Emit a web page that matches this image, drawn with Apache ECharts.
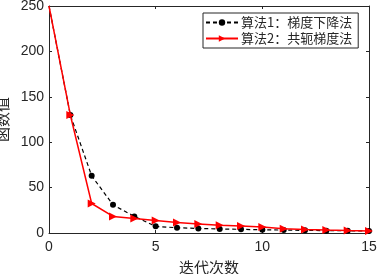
<!DOCTYPE html>
<html><head><meta charset="utf-8">
<script src="https://cdn.jsdelivr.net/npm/echarts@6/dist/echarts.min.js"></script>
<style>html,body{margin:0;padding:0;background:#fff}#c{width:377px;height:274px}</style>
</head><body><div id="c"></div>
<script>
var iterations = [0,1,2,3,4,5,6,7,8,9,10,11,12,13,14,15];
var gdValues = [250,130,63,31,18.3,7.3,5.8,5.0,4.5,4.0,3.6,3.2,2.9,2.6,2.4,2.2];
var cgValues = [250,130,32.5,18.3,16,13.7,11.5,10,8.6,7.6,6.5,4.6,3.8,3.2,2.7,2.3];
var gdName = '算法1：梯度下降法';
var cgName = '算法2：共轭梯度法';
var xTicks = [0,5,10,15];
var yTicks = [0,50,100,150,200,250];

function pts(vals){
  return iterations.map(function(x,i){
    var d = {value:[x, vals[i]]};
    if(i===0) d.symbol='none';
    return d;
  });
}
var font = 'Liberation Sans, Arial, sans-serif';
var cjk = '"Noto Sans CJK SC", sans-serif';
var chart = echarts.init(document.getElementById('c'));
var axisCommon = {
  axisLine:{show:true,onZero:false,lineStyle:{color:'#262626',width:1}},
  axisTick:{show:true,inside:true,length:3,lineStyle:{color:'#262626'}},
  splitLine:{show:false}
};
chart.setOption({
  animation:false,
  grid:{left:49,right:8,top:6,bottom:41,containLabel:false,outerBoundsMode:'none'},
  xAxis:[
    Object.assign({type:'value',min:xTicks[0],max:xTicks[xTicks.length-1],interval:5,position:'bottom',
      name:'迭代次数',nameLocation:'middle',nameGap:27,
      nameTextStyle:{fontFamily:cjk,fontSize:15,color:'#262626'},
      axisLabel:{fontFamily:font,fontSize:14,color:'#262626',margin:7}},axisCommon),
    Object.assign({type:'value',min:0,max:15,interval:5,position:'top',axisLabel:{show:false}},axisCommon)
  ],
  yAxis:[
    Object.assign({type:'value',min:yTicks[0],max:yTicks[yTicks.length-1],interval:50,position:'left',
      name:'函数值',nameLocation:'middle',nameGap:33,nameRotate:90,
      nameTextStyle:{fontFamily:cjk,fontSize:15,color:'#262626'},
      axisLabel:{fontFamily:font,fontSize:14,color:'#262626',margin:5}},axisCommon),
    Object.assign({type:'value',min:0,max:250,interval:50,position:'right',axisLabel:{show:false}},axisCommon)
  ],
  legend:{
    orient:'vertical',left:203,top:13,
    backgroundColor:'#fff',borderColor:'#262626',borderWidth:1,borderRadius:0,
    padding:[3,6,3,2],itemGap:3,itemWidth:32,itemHeight:8,
    textStyle:{fontFamily:cjk,fontSize:13,color:'#262626',padding:[0,0,0,-2]},
    data:[gdName,cgName]
  },
  series:[
    {name:gdName,type:'line',data:pts(gdValues),
      lineStyle:{color:'#000',width:1.2,type:[4,3]},
      itemStyle:{color:'#000'},symbol:'circle',symbolSize:6,z:2},
    {name:cgName,type:'line',data:pts(cgValues),
      lineStyle:{color:'#ff0000',width:1.5},
      itemStyle:{color:'#ff0000'},symbol:'triangle',symbolRotate:-90,symbolSize:8,z:3}
  ]
});
</script></body></html>
